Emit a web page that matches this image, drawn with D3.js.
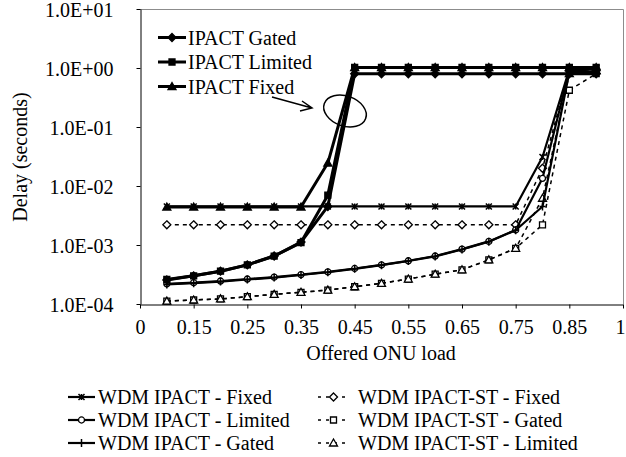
<!DOCTYPE html>
<html>
<head>
<meta charset="utf-8">
<script src="https://cdn.jsdelivr.net/npm/d3@7"></script>
<style>
  body { margin: 0; background: #fff; }
  svg text { font-family: "Liberation Serif", "Times New Roman", Tinos, "DejaVu Serif", serif !important; fill: #000; }
</style>
</head>
<body>
<div id="chart"></div>
<script>
// offered load (x) for every series
var loads = [0.1, 0.15, 0.2, 0.25, 0.3, 0.35, 0.4, 0.45, 0.5, 0.55, 0.6, 0.65, 0.7, 0.75, 0.8, 0.85, 0.9];

// delay in seconds
var ipactGated   = [2.55e-4, 3.0e-4, 3.6e-4, 4.6e-4, 6.5e-4, 1.12e-3, 4.5e-3, 0.8, 0.8, 0.8, 0.8, 0.8, 0.8, 0.8, 0.8, 0.8, 0.8];
var ipactLimited = [2.6e-4, 3.0e-4, 3.6e-4, 4.6e-4, 6.5e-4, 1.1e-3, 7.0e-3, 1.02, 1.02, 1.02, 1.02, 1.02, 1.02, 1.02, 1.02, 1.02, 1.02];
var ipactFixed   = [4.4e-3, 4.4e-3, 4.4e-3, 4.4e-3, 4.4e-3, 4.4e-3, 0.0245, 1.02, 1.02, 1.02, 1.02, 1.02, 1.02, 1.02, 1.02, 1.02, 1.02];
var wdmFixed     = [4.5e-3, 4.5e-3, 4.5e-3, 4.5e-3, 4.5e-3, 4.5e-3, 4.5e-3, 4.5e-3, 4.5e-3, 4.5e-3, 4.5e-3, 4.5e-3, 4.5e-3, 4.5e-3, 0.031, 0.95, 1.0];
var wdmLimited   = [2.2e-4, 2.3e-4, 2.45e-4, 2.65e-4, 2.85e-4, 3.15e-4, 3.5e-4, 4.0e-4, 4.6e-4, 5.4e-4, 6.5e-4, 8.5e-4, 1.15e-3, 1.8e-3, 0.0135, 0.9, 0.95];
var wdmGated     = [2.15e-4, 2.25e-4, 2.4e-4, 2.6e-4, 2.8e-4, 3.1e-4, 3.45e-4, 3.95e-4, 4.55e-4, 5.35e-4, 6.4e-4, 8.4e-4, 1.14e-3, 1.78e-3, 4.5e-3, 0.85, 0.85];
var stFixed      = [2.2e-3, 2.2e-3, 2.2e-3, 2.2e-3, 2.2e-3, 2.2e-3, 2.2e-3, 2.2e-3, 2.2e-3, 2.2e-3, 2.2e-3, 2.2e-3, 2.2e-3, 2.2e-3, 0.02, 0.9, 0.95];
var stGated      = [1.12e-4, 1.17e-4, 1.22e-4, 1.33e-4, 1.46e-4, 1.58e-4, 1.72e-4, 1.96e-4, 2.24e-4, 2.65e-4, 3.2e-4, 3.8e-4, 5.6e-4, 8.8e-4, 2.2e-3, 0.42, 0.8];
var stLimited    = [1.12e-4, 1.17e-4, 1.22e-4, 1.33e-4, 1.46e-4, 1.58e-4, 1.72e-4, 1.96e-4, 2.24e-4, 2.65e-4, 3.2e-4, 3.8e-4, 5.6e-4, 8.8e-4, 6.2e-3, 0.8, 0.9];

// axis ticks
var xTicks = [0.05, 0.15, 0.25, 0.35, 0.45, 0.55, 0.65, 0.75, 0.85, 0.95];
var xTickLabels = ["0", "0.15", "0.25", "0.35", "0.45", "0.55", "0.65", "0.75", "0.85", "1"];
var yTicks = [1e-4, 1e-3, 1e-2, 1e-1, 1, 10];
var yTickLabels = ["1.0E-04", "1.0E-03", "1.0E-02", "1.0E-01", "1.0E+00", "1.0E+01"];

var width = 626, height = 457;
var svg = d3.select("#chart").append("svg")
    .attr("width", width)
    .attr("height", height)
    .attr("font-family", "Liberation Serif");

var x = d3.scaleLinear().domain([0.05, 0.95]).range([140, 623]);
var y = d3.scaleLog().domain([1e-4, 10]).range([304, 9]);

/* frame: grey top / right, black axes */
svg.append("path")
   .attr("d", "M140,9.5H623.5V304")
   .attr("fill", "none")
   .attr("stroke", "#8c8c8c")
   .attr("stroke-width", 1);

var xAxis = d3.axisBottom(x)
    .tickValues(xTicks)
    .tickFormat(function(d, i) { return xTickLabels[i]; })
    .tickSizeInner(4).tickSizeOuter(0).tickPadding(11);
var gx = svg.append("g").attr("transform", "translate(0,304.5)").call(xAxis);

var yAxis = d3.axisLeft(y)
    .tickValues(yTicks)
    .tickFormat(function(d, i) { return yTickLabels[i]; })
    .tickSizeInner(4).tickSizeOuter(0).tickPadding(23);
var gy = svg.append("g").attr("transform", "translate(140.5,0)").call(yAxis);

[gx, gy].forEach(function(g) {
  g.attr("font-family", "Liberation Serif").attr("font-size", 20);
  g.selectAll("line, path").attr("stroke", "#000");
});
gy.selectAll("text").attr("dy", "0.35em");
// last x label sits on the frame edge, nudge it inside
gx.selectAll(".tick text").filter(function(d, i) { return i === xTicks.length - 1; })
  .attr("dx", "-3");

svg.append("text")
   .attr("x", 381).attr("y", 353)
   .attr("text-anchor", "middle").attr("dominant-baseline", "central")
   .style("font-size", "20px")
   .text("Offered ONU load");

svg.append("text")
   .attr("transform", "translate(20,157) rotate(-90)")
   .attr("text-anchor", "middle").attr("dominant-baseline", "central")
   .style("font-size", "20px")
   .text("Delay (seconds)");

/* markers */
function markerPath(kind, s) {
  var h = s / 2;
  switch (kind) {
    case "diamond": return "M0," + (-h - 1) + "L" + (h + 1) + ",0L0," + (h + 1) + "L" + (-h - 1) + ",0Z";
    case "square": return "M" + (-h) + "," + (-h) + "h" + s + "v" + s + "h" + (-s) + "Z";
    case "triangle": return "M0," + (-h - 1) + "L" + (h + 1) + "," + h + "L" + (-h - 1) + "," + h + "Z";
    case "circle": return d3.symbol(d3.symbolCircle, s * s * 0.8)();
    case "star": return "M" + (-h) + "," + (-h) + "L" + h + "," + h + "M" + h + "," + (-h) + "L" + (-h) + "," + h + "M0," + (-h) + "V" + h;
    case "plus": return "M0," + (-h - 1) + "V" + (h + 1) + "M" + (-h) + ",0H" + h;
  }
}

var series = [
  { name: "WDM IPACT-ST - Fixed",   values: stFixed,   marker: "diamond",  open: true,  width: 1.5, dash: "4,4" },
  { name: "WDM IPACT-ST - Gated",   values: stGated,   marker: "square",   open: true,  width: 1.5, dash: "4,4" },
  { name: "WDM IPACT-ST - Limited", values: stLimited, marker: "triangle", open: true,  width: 1.5, dash: "4,4" },
  { name: "WDM IPACT - Fixed",      values: wdmFixed,  marker: "star",     open: false, width: 2.2, dash: null },
  { name: "WDM IPACT - Limited",    values: wdmLimited,marker: "circle",   open: true,  width: 2.2, dash: null },
  { name: "WDM IPACT - Gated",      values: wdmGated,  marker: "plus",     open: false, width: 2.2, dash: null },
  { name: "IPACT Gated",            values: ipactGated,  marker: "diamond",  open: false, width: 3, dash: null },
  { name: "IPACT Limited",          values: ipactLimited,marker: "square",   open: false, width: 3, dash: null },
  { name: "IPACT Fixed",            values: ipactFixed,  marker: "triangle", open: false, width: 3, dash: null }
];

var line = d3.line()
    .x(function(d) { return x(d[0]); })
    .y(function(d) { return y(d[1]); });

function drawMarker(g, kind, open, cx, cy) {
  var isStroke = (kind === "star" || kind === "plus");
  g.append("path")
   .attr("transform", "translate(" + cx + "," + cy + ")")
   .attr("d", markerPath(kind, 6))
   .attr("fill", isStroke ? "none" : (open ? "#fff" : "#000"))
   .attr("stroke", "#000")
   .attr("stroke-width", isStroke ? 1.5 : 1.3);
}

var plot = svg.append("g");
series.forEach(function(s) {
  var pts = loads.map(function(l, i) { return [l, s.values[i]]; });
  var g = plot.append("g");
  g.append("path")
   .datum(pts)
   .attr("d", line)
   .attr("fill", "none")
   .attr("stroke", "#000")
   .attr("stroke-width", s.width)
   .attr("stroke-linejoin", "round")
   .attr("stroke-dasharray", s.dash);
  pts.forEach(function(p) { drawMarker(g, s.marker, s.open, x(p[0]), y(p[1])); });
});

/* inner legend (IPACT) */
var inner = series.slice(6);
inner.forEach(function(s, i) {
  var ly = 37.5 + i * 24.5;
  var g = svg.append("g");
  g.append("line").attr("x1", 158).attr("x2", 186).attr("y1", ly).attr("y2", ly)
   .attr("stroke", "#000").attr("stroke-width", 3);
  drawMarker(g, s.marker, s.open, 172, ly);
  g.append("text").attr("x", 188).attr("y", ly)
   .attr("dominant-baseline", "central").style("font-size", "20px")
   .text(s.name);
});

/* annotation ellipse + arrow */
svg.append("ellipse")
   .attr("cx", 345).attr("cy", 111).attr("rx", 22).attr("ry", 15)
   .attr("transform", "rotate(20,345,111)")
   .attr("fill", "none").attr("stroke", "#000").attr("stroke-width", 1.5);
svg.append("path")
   .attr("d", "M272,97L312,108M302,101L312,108L300,111")
   .attr("fill", "none").attr("stroke", "#000").attr("stroke-width", 1.5);

/* bottom legend */
var leftCol = [series[3], series[4], series[5]];
var rightCol = [series[0], series[1], series[2]];
function legendCol(items, x1, x2, tx) {
  items.forEach(function(s, i) {
    var ly = 397 + i * 23;
    var g = svg.append("g");
    g.append("line").attr("x1", x1).attr("x2", x2).attr("y1", ly).attr("y2", ly)
     .attr("stroke", "#000").attr("stroke-width", s.width)
     .attr("stroke-dasharray", s.dash ? "3,5" : null);
    drawMarker(g, s.marker, s.open, (x1 + x2) / 2, ly);
    g.append("text").attr("x", tx).attr("y", ly)
     .attr("dominant-baseline", "central").style("font-size", "20px")
     .text(s.name);
  });
}
legendCol(leftCol, 68, 95, 98);
legendCol(rightCol, 318, 349, 358);
</script>
</body>
</html>
